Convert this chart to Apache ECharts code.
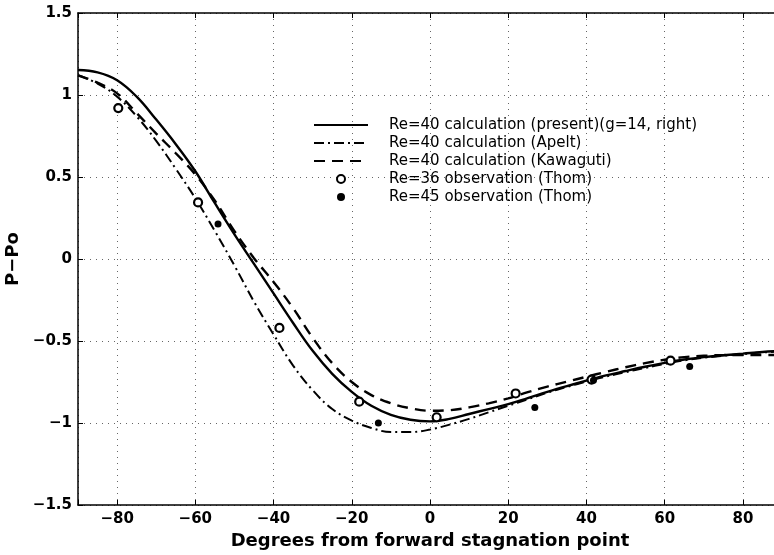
<!DOCTYPE html>
<html><head><meta charset="utf-8">
<script src="https://cdn.jsdelivr.net/npm/echarts@6/dist/echarts.min.js"></script>
<style>html,body{margin:0;padding:0;background:#fff}#c{width:774px;height:555px}</style>
</head><body><div id="c"></div>
<script>
// ---- data ----
const degrees = [-90,-85,-80,-75,-70,-65,-60,-55,-50,-45,-40,-35,-30,-25,-20,-15,-10,-5,0,5,10,15,20,25,30,35,40,45,50,55,60,65,70,75,80,85,90];
const presentVals = [1.152,1.138,1.09,0.99,0.85,0.70,0.535,0.34,0.15,-0.03,-0.21,-0.39,-0.56,-0.70,-0.81,-0.895,-0.95,-0.98,-0.99,-0.975,-0.945,-0.915,-0.885,-0.848,-0.81,-0.775,-0.742,-0.71,-0.683,-0.657,-0.633,-0.613,-0.598,-0.587,-0.577,-0.567,-0.56];
const apeltVals = [1.12,1.07,0.99,0.87,0.72,0.55,0.37,0.17,-0.04,-0.26,-0.46,-0.65,-0.80,-0.915,-0.985,-1.03,-1.055,-1.055,-1.04,-1.01,-0.975,-0.935,-0.895,-0.855,-0.815,-0.78,-0.748,-0.717,-0.69,-0.664,-0.64,-0.618,-0.602,-0.59,-0.58,-0.57,-0.563];
const kawagutiVals = [1.12,1.075,1.01,0.89,0.765,0.645,0.515,0.355,0.17,0.005,-0.14,-0.30,-0.48,-0.635,-0.75,-0.83,-0.88,-0.91,-0.925,-0.922,-0.905,-0.88,-0.85,-0.812,-0.778,-0.748,-0.718,-0.688,-0.66,-0.635,-0.614,-0.598,-0.59,-0.586,-0.585,-0.585,-0.585];
const thom36Deg = [-79.7,-59.3,-38.5,-18.1,1.7,21.9,41.3,61.5];
const thom36Vals = [0.92,0.345,-0.42,-0.87,-0.965,-0.82,-0.735,-0.62];
const thom45Deg = [-54.2,-13.2,26.8,41.8,66.4];
const thom45Vals = [0.213,-1.0,-0.905,-0.74,-0.655];
const seriesNames = ['Re=40 calculation (present)(g=14, right)','Re=40 calculation (Apelt)','Re=40 calculation (Kawaguti)','Re=36 observation (Thom)','Re=45 observation (Thom)'];
const xTitle = 'Degrees from forward stagnation point';
const yTitle = 'P\u2212Po';

const pairs = (xs, ys) => xs.map((x, i) => [x, ys[i]]);
const fmt = v => String(v).replace('-', '\u2212');
const FONT = 'DejaVu Sans';

const chart = echarts.init(document.getElementById('c'), null, {renderer: 'canvas'});
const labelStyle = {fontFamily: FONT, fontWeight: 'bold', fontSize: 15, color: '#000'};
const gridLine = {show: true, lineStyle: {color: '#666', type: [1, 5], width: 1}};
const legendData = seriesNames.map((n, i) => i < 3 ? {name: n, itemStyle: {opacity: 0}} : {name: n});
chart.setOption({
  animation: false,
  backgroundColor: '#fff',
  grid: {left: 78, top: 13, width: 704, height: 492, containLabel: false, outerBoundsMode: 'none'},
  legend: {
    orient: 'vertical', left: 308, top: 111, padding: 5,
    itemWidth: 54, itemHeight: 8, itemGap: 0,
    textStyle: {fontFamily: FONT, fontSize: 15, color: '#000', lineHeight: 18, padding: [0, 0, 0, 16]},
    data: legendData
  },
  xAxis: [{
    type: 'value', min: -90, max: 90, splitNumber: 9, minInterval: 20, maxInterval: 20,
    position: 'bottom',
    axisLine: {show: true, onZero: false, lineStyle: {color: '#000', width: 1.5}},
    axisTick: {show: true, inside: true, length: 5, lineStyle: {color: '#000', width: 1}},
    axisLabel: Object.assign({margin: 7, formatter: v => (v <= -90 || v >= 90) ? '' : fmt(v)}, labelStyle),
    splitLine: gridLine,
    name: xTitle, nameLocation: 'middle', nameGap: 27,
    nameTextStyle: {fontFamily: FONT, fontWeight: 'bold', fontSize: 18, color: '#000'}
  }, {
    type: 'value', min: -90, max: 90, splitNumber: 9, minInterval: 20, maxInterval: 20,
    position: 'top',
    axisLine: {show: true, onZero: false, lineStyle: {color: '#000', width: 1.5}},
    axisTick: {show: true, inside: true, length: 5, lineStyle: {color: '#000', width: 1}},
    axisLabel: {show: false}, splitLine: {show: false}
  }],
  yAxis: [{
    type: 'value', min: -1.5, max: 1.5, interval: 0.5,
    axisLine: {show: true, onZero: false, lineStyle: {color: '#000', width: 1.5}},
    axisTick: {show: true, inside: true, length: 5, lineStyle: {color: '#000', width: 1}},
    axisLabel: Object.assign({margin: 6, formatter: v => fmt(v)}, labelStyle),
    splitLine: gridLine,
    name: yTitle, nameLocation: 'middle', nameGap: 49, nameRotate: 90,
    nameTextStyle: {fontFamily: FONT, fontWeight: 'bold', fontSize: 18, color: '#000'}
  }],
  series: [
    {name: seriesNames[0], type: 'line', data: pairs(degrees, presentVals), smooth: 0.4, symbol: 'none',
     lineStyle: {color: '#000', width: 2.4, type: 'solid'}, itemStyle: {color: '#000'}, z: 3},
    {name: seriesNames[1], type: 'line', data: pairs(degrees, apeltVals), smooth: 0.4, symbol: 'none',
     lineStyle: {color: '#000', width: 2, type: [10, 4, 2, 4]}, itemStyle: {color: '#000'}, z: 3},
    {name: seriesNames[2], type: 'line', data: pairs(degrees, kawagutiVals), smooth: 0.4, symbol: 'none',
     lineStyle: {color: '#000', width: 2.4, type: [11, 7]}, itemStyle: {color: '#000'}, z: 3},
    {name: seriesNames[3], type: 'scatter', data: pairs(thom36Deg, thom36Vals), symbol: 'circle', symbolSize: 8,
     itemStyle: {color: '#fff', borderColor: '#000', borderWidth: 2.2, opacity: 1}, z: 4},
    {name: seriesNames[4], type: 'scatter', data: pairs(thom45Deg, thom45Vals), symbol: 'circle', symbolSize: 7,
     itemStyle: {color: '#000', borderColor: '#000', borderWidth: 0, opacity: 1}, z: 4}
  ]
});
</script>
</body></html>
